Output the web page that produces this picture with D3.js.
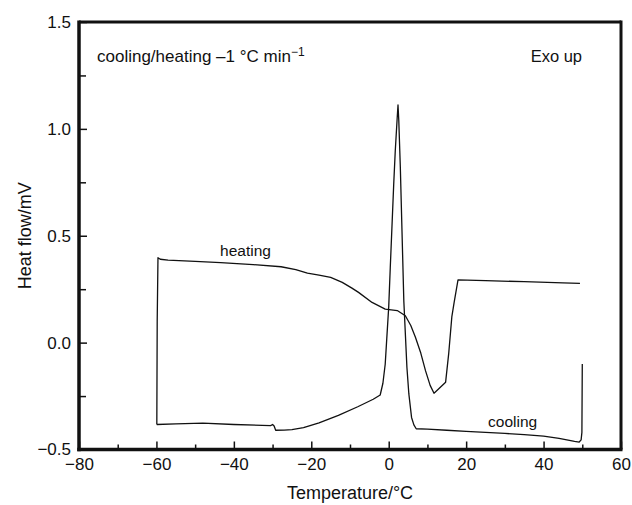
<!DOCTYPE html>
<html>
<head>
<meta charset="utf-8">
<script src="https://cdn.jsdelivr.net/npm/d3@7"></script>
<style>
  body { margin: 0; background: #fff; }
  svg text { font-family: "Liberation Sans", Arial, sans-serif; fill: #111; }
</style>
</head>
<body>
<svg id="chart" width="632" height="505"></svg>
<script>
"use strict";

// cooling run, 50 -> -60 °C
var coolT = [50.0, 49.9, 49.7, 49.2, 48.0, 44, 40, 35, 30, 25, 20, 15, 10, 7.1, 6.5, 5.9, 5.2, 4.7, 3.9, 3.0, 2.6, 2.4, 2.2, 1.7, 1.3, 0.4, 0.0, -0.5, -0.9, -1.5, -2.2, -4, -8, -13, -18, -22, -25, -27, -29.2, -29.6, -30.0, -30.5, -40, -48, -55, -59.9];
var coolQ = [-0.10, -0.42, -0.455, -0.465, -0.462, -0.448, -0.437, -0.430, -0.425, -0.420, -0.415, -0.410, -0.405, -0.403, -0.385, -0.35, -0.24, -0.115, 0.196, 0.82, 1.04, 1.112, 1.054, 0.90, 0.745, 0.35, 0.167, 0.02, -0.10, -0.19, -0.245, -0.265, -0.30, -0.34, -0.375, -0.398, -0.407, -0.409, -0.410, -0.39, -0.383, -0.388, -0.383, -0.377, -0.380, -0.383];

// heating run, -60 -> 50 °C
var heatT = [-59.9, -59.8, -59.6, -59.0, -57, -50, -43.4, -35, -27.8, -24, -21, -18, -15, -12, -9.5, -7.8, -4.3, -0.9, 2.2, 4.3, 5.7, 6.9, 8.3, 9.5, 10.7, 11.7, 13, 14.7, 15.5, 16.3, 16.9, 17.9, 25, 35, 45, 49.4];
var heatQ = [-0.383, 0.1, 0.397, 0.39, 0.386, 0.38, 0.374, 0.365, 0.355, 0.342, 0.325, 0.316, 0.305, 0.282, 0.255, 0.235, 0.188, 0.157, 0.15, 0.126, 0.08, 0.025, -0.05, -0.131, -0.2, -0.237, -0.215, -0.185, -0.05, 0.12, 0.188, 0.294, 0.29, 0.285, 0.28, 0.277];

var xTicks = [-80, -60, -40, -20, 0, 20, 40, 60];
var xMinor = [-70, -50, -30, -10, 10, 30, 50];
var yTicks = [-0.5, 0.0, 0.5, 1.0, 1.5];
var yMinor = [-0.25, 0.25, 0.75, 1.25];

(function () {
  var svg = d3.select("#chart");
  var pl = 79, pr = 621, pt = 22, pb = 449.5;

  var x = d3.scaleLinear().domain([-80, 60]).range([pl, pr]);
  var y = d3.scaleLinear().domain([-0.5, 1.5]).range([pb, pt]);

  function pairs(t, q) {
    return t.map(function (d, i) { return [d, q[i]]; });
  }

  var line = d3.line()
    .x(function (d) { return x(d[0]); })
    .y(function (d) { return y(d[1]); });

  // curves
  [pairs(coolT, coolQ), pairs(heatT, heatQ)].forEach(function (data) {
    svg.append("path")
      .datum(data)
      .attr("fill", "none")
      .attr("stroke", "#111")
      .attr("stroke-width", 1.3)
      .attr("stroke-linejoin", "round")
      .attr("d", line);
  });

  // x axis, ticks pointing inwards
  svg.append("g")
    .attr("transform", "translate(0," + pb + ")")
    .call(d3.axisBottom(x).tickValues(xTicks).tickFormat(d3.format("d"))
      .tickSizeInner(-8).tickSizeOuter(0).tickPadding(8));
  svg.append("g")
    .attr("transform", "translate(0," + pb + ")")
    .call(d3.axisBottom(x).tickValues(xMinor).tickFormat("")
      .tickSizeInner(-5).tickSizeOuter(0));

  // y axis
  svg.append("g")
    .attr("transform", "translate(" + pl + ",0)")
    .call(d3.axisLeft(y).tickValues(yTicks).tickFormat(d3.format(".1f"))
      .tickSizeInner(-8).tickSizeOuter(0).tickPadding(8));
  svg.append("g")
    .attr("transform", "translate(" + pl + ",0)")
    .call(d3.axisLeft(y).tickValues(yMinor).tickFormat("")
      .tickSizeInner(-7).tickSizeOuter(0));

  svg.selectAll(".domain").remove();
  svg.selectAll(".tick line").attr("stroke", "#111").attr("stroke-width", 1.5);
  svg.selectAll(".tick text").attr("font-size", 17).attr("fill", "#111");

  // frame
  svg.append("line").attr("x1", pl).attr("x2", pr).attr("y1", pt).attr("y2", pt)
    .attr("stroke", "#111").attr("stroke-width", 3);
  svg.append("line").attr("x1", pr).attr("x2", pr).attr("y1", pt - 1.5).attr("y2", pb)
    .attr("stroke", "#111").attr("stroke-width", 3);
  svg.append("line").attr("x1", pl).attr("x2", pl).attr("y1", pt - 1.5).attr("y2", pb + 1.75)
    .attr("stroke", "#111").attr("stroke-width", 3.5);
  svg.append("line").attr("x1", pl - 1.75).attr("x2", pr + 1.5).attr("y1", pb).attr("y2", pb)
    .attr("stroke", "#111").attr("stroke-width", 3.5);

  // axis titles
  svg.append("text")
    .attr("x", (pl + pr) / 2).attr("y", 499)
    .attr("text-anchor", "middle").attr("font-size", 18)
    .text("Temperature/°C");
  svg.append("text")
    .attr("transform", "translate(31," + ((pt + pb) / 2) + ") rotate(-90)")
    .attr("text-anchor", "middle").attr("font-size", 18)
    .text("Heat flow/mV");

  // annotations
  var note = svg.append("text")
    .attr("x", 97).attr("y", 62)
    .attr("font-size", 17);
  note.append("tspan").text("cooling/heating \u20131 °C min");
  note.append("tspan").attr("font-size", 12).attr("dy", -6).text("\u22121");

  svg.append("text")
    .attr("x", 582).attr("y", 62)
    .attr("text-anchor", "end").attr("font-size", 16.5)
    .text("Exo up");

  svg.append("text")
    .attr("x", x(-37)).attr("y", 256)
    .attr("text-anchor", "middle").attr("font-size", 15.5)
    .text("heating");

  svg.append("text")
    .attr("x", x(32)).attr("y", 427)
    .attr("text-anchor", "middle").attr("font-size", 15.5)
    .text("cooling");
})();
</script>
</body>
</html>
